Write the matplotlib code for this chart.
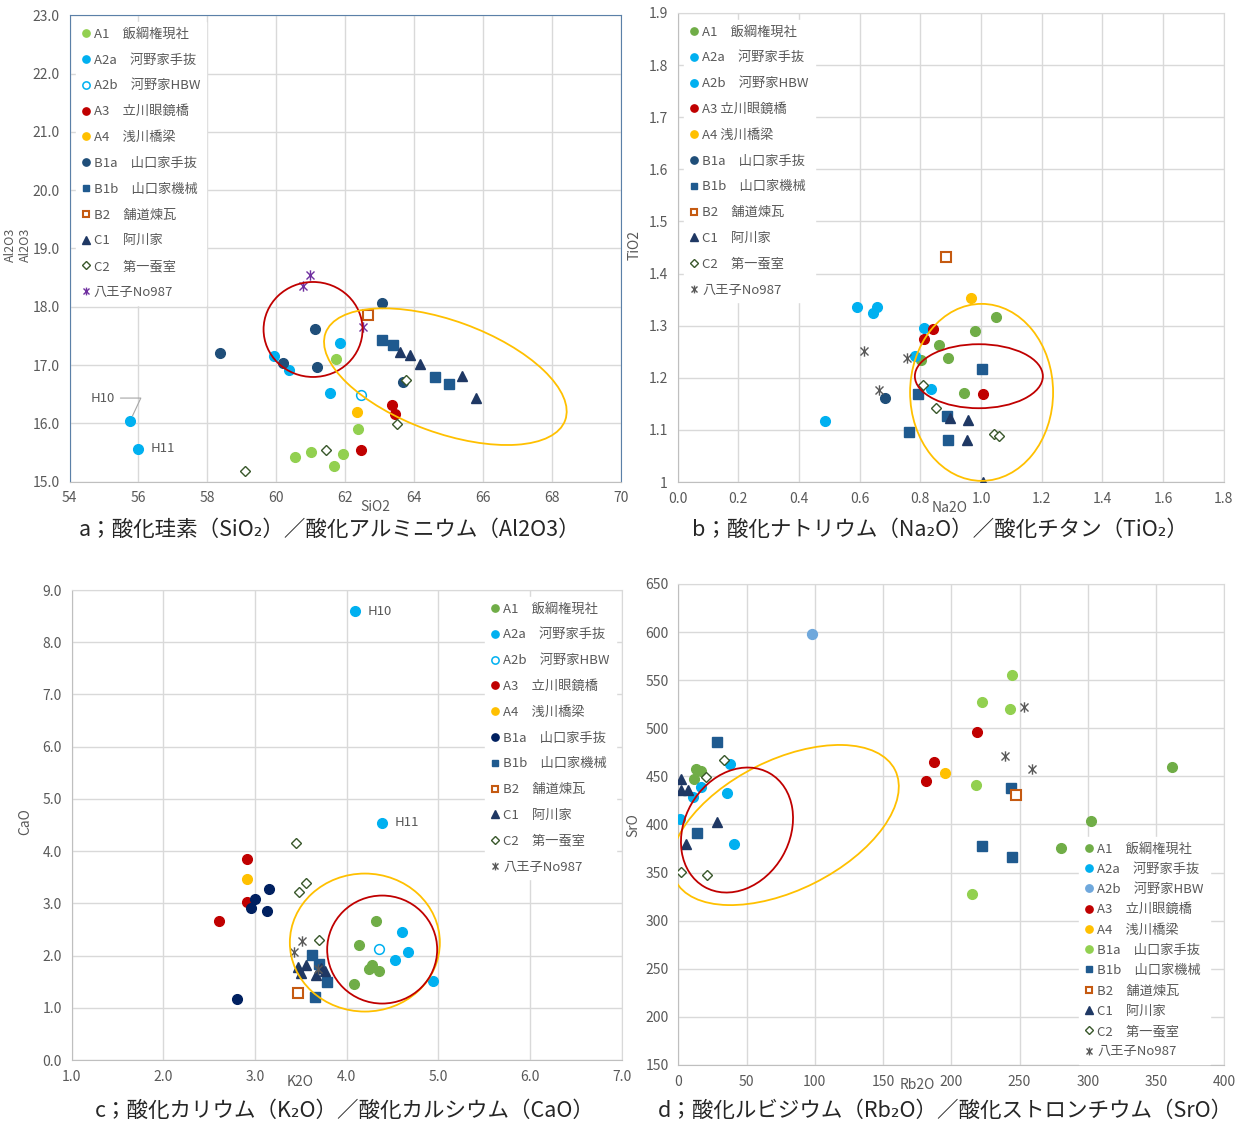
import matplotlib
matplotlib.use('Agg')
import matplotlib.pyplot as plt
from matplotlib.patches import Ellipse
from matplotlib.path import Path
from matplotlib.lines import Line2D
from matplotlib.transforms import ScaledTranslation

plt.rcParams['font.family'] = ['Noto Sans CJK JP', 'DejaVu Sans']

# ---- data ----
series = ['A1', 'A2a', 'A2b', 'A3', 'A4', 'B1a', 'B1b', 'B2', 'C1', 'C2', 'HJ']
labels = ['A1\u3000飯綱権現社', 'A2a\u3000河野家手抜', 'A2b\u3000河野家HBW',
          'A3\u3000立川眼鏡橋', 'A4\u3000浅川橋梁', 'B1a\u3000山口家手抜',
          'B1b\u3000山口家機械', 'B2\u3000舗道煉瓦', 'C1\u3000阿川家',
          'C2\u3000第一蚕室', '八王子No987']
labels_b = list(labels)
labels_b[3] = 'A3 立川眼鏡橋'
labels_b[4] = 'A4 浅川橋梁'

sio2_al2o3 = {
    'A1': ([61.73, 62.38, 60.55, 61.02, 61.93, 61.68], [17.11, 15.91, 15.43, 15.50, 15.47, 15.26]),
    'A2a': ([55.76, 55.99, 61.86, 59.94, 60.38, 61.55], [16.04, 15.56, 17.38, 17.16, 16.91, 16.52]),
    'A2b': ([62.47], [16.49]),
    'A3': ([63.37, 63.45, 62.46], [16.31, 16.16, 15.54]),
    'A4': ([62.35], [16.19]),
    'B1a': ([63.08, 61.13, 58.36, 60.20, 61.19, 63.67], [18.07, 17.62, 17.21, 17.03, 16.96, 16.71]),
    'B1b': ([63.06, 63.38, 64.61, 65.03], [17.43, 17.35, 16.79, 16.67]),
    'B2': ([62.67], [17.85]),
    'C1': ([63.59, 63.88, 64.16, 65.39, 65.80], [17.23, 17.17, 17.01, 16.82, 16.43]),
    'C2': ([63.76, 63.50, 61.46, 59.10], [16.74, 15.98, 15.55, 15.18]),
    'HJ': ([60.98, 60.77, 62.53], [18.54, 18.36, 17.66]),
}

na2o_tio2 = {
    'A1': ([1.049, 0.981, 0.862, 0.890, 0.801, 0.944], [1.317, 1.290, 1.262, 1.238, 1.234, 1.170]),
    'A2a': ([0.592, 0.656, 0.643, 0.812, 0.781, 0.834, 0.487], [1.335, 1.335, 1.325, 1.296, 1.242, 1.178, 1.118]),
    'A2b': ([], []),
    'A3': ([0.841, 0.812, 1.007], [1.294, 1.275, 1.168]),
    'A4': ([0.967], [1.354]),
    'B1a': ([0.684], [1.162]),
    'B1b': ([1.003, 0.791, 0.887, 0.762, 0.891], [1.217, 1.169, 1.127, 1.095, 1.080]),
    'B2': ([0.885], [1.432]),
    'C1': ([0.898, 0.956, 0.954, 1.007], [1.122, 1.119, 1.081, 1.000]),
    'C2': ([0.808, 0.852, 1.044, 1.059], [1.186, 1.142, 1.092, 1.088]),
    'HJ': ([0.613, 0.755, 0.663], [1.251, 1.237, 1.177]),
}

k2o_cao = {
    'A1': ([4.324, 4.131, 4.276, 4.247, 4.353, 4.084], [2.66, 2.20, 1.82, 1.74, 1.70, 1.45]),
    'A2a': ([4.087, 4.389, 4.607, 4.665, 4.524, 4.945], [8.59, 4.54, 2.46, 2.07, 1.91, 1.51]),
    'A2b': ([4.349], [2.12]),
    'A3': ([2.908, 2.908, 2.607], [3.84, 3.02, 2.66]),
    'A4': ([2.908], [3.46]),
    'B1a': ([2.799, 2.956, 3.004, 3.153, 3.135], [1.16, 2.91, 3.08, 3.27, 2.85]),
    'B1b': ([3.62, 3.70, 3.78, 3.65], [2.01, 1.84, 1.50, 1.20]),
    'B2': ([3.469], [1.28]),
    'C1': ([3.47, 3.56, 3.50, 3.66, 3.76, 3.72], [1.78, 1.82, 1.66, 1.62, 1.70, 1.77]),
    'C2': ([3.45, 3.556, 3.484, 3.702], [4.16, 3.39, 3.21, 2.29]),
    'HJ': ([3.516, 3.425, 3.691], [2.28, 2.07, 1.75]),
}

rb2o_sro = {
    'A1': ([12.9, 16.3, 11.5, 361.7, 302.0, 280.0], [457.4, 455.3, 447.0, 460.1, 404.1, 376.0]),
    'A2a': ([37.8, 16.8, 11.0, 35.9, 1.2, 40.5], [462.6, 439.4, 428.6, 433.1, 405.4, 379.5]),
    'A2b': ([97.9], [598.5]),
    'A3': ([218.5, 187.6, 181.6], [496.3, 464.9, 445.5]),
    'A4': ([195.4], [453.5]),
    'B1a': ([244.2, 222.3, 242.8, 218.2, 214.8], [555.7, 527.2, 520.3, 441.3, 327.8]),
    'B1b': ([28.0, 13.9, 243.4, 222.3, 244.5], [485.8, 391.6, 437.8, 378.1, 366.0]),
    'B2': ([247.4], [430.9]),
    'C1': ([1.7, 1.7, 6.8, 28.0, 5.4], [447.4, 435.9, 435.9, 402.3, 379.8]),
    'C2': ([33.7, 20.5, 1.7, 21.2], [467.1, 449.8, 350.7, 347.9]),
    'HJ': ([253.5, 239.6, 258.9], [522.3, 470.9, 457.7]),
}

# ---- styles ----
star = Path([(-1, -1), (1, 1), (-1, 1), (1, -1), (0, -1.3), (0, 1.3)],
            [Path.MOVETO, Path.LINETO] * 3)


def style(name, panel):
    green = '#92D050' if panel == 'a' else '#70AD47'
    navy = '#002060' if panel == 'c' else '#1F4E79'
    s = {
        'A1': dict(marker='o', ms=7, mfc=green, mec=green),
        'A2a': dict(marker='o', ms=7, mfc='#00B0F0', mec='#00B0F0'),
        'A2b': dict(marker='o', ms=7, mfc='white', mec='#00B0F0', mew=1.1),
        'A3': dict(marker='o', ms=7, mfc='#C00000', mec='#C00000'),
        'A4': dict(marker='o', ms=7, mfc='#FFC000', mec='#FFC000'),
        'B1a': dict(marker='o', ms=7, mfc=navy, mec=navy),
        'B1b': dict(marker='s', ms=6.5, mfc='#1F5A8F', mec='#1F5A8F'),
        'B2': dict(marker='s', ms=6.5, mfc='white', mec='#C55A11', mew=1.5),
        'C1': dict(marker='^', ms=7, mfc='#1F3864', mec='#1F3864'),
        'C2': dict(marker='D', ms=5, mfc='white', mec='#38572A', mew=1.0),
        'HJ': dict(marker=star, ms=7.5, mfc='none', mec='#595959', mew=1.0),
    }[name]
    if panel == 'a' and name == 'HJ':
        s['mec'] = '#7030A0'
    if panel == 'b' and name == 'A2b':
        s['mfc'] = '#00B0F0'
    if panel == 'd' and name == 'A2b':
        s['mfc'] = s['mec'] = '#6FA8DC'
    if panel == 'd' and name == 'B1a':
        s['mfc'] = s['mec'] = '#92D050'
    return s


W, H = 1240, 1124
fig = plt.figure(figsize=(W / 100, H / 100), dpi=100)
grid = '#D9D9D9'
tick_c = '#595959'


def px_axes(l, t, r, b):
    return fig.add_axes([l / W, 1 - b / H, (r - l) / W, (b - t) / H])


def draw(ax, data, panel, xlim, ylim, xticks, yticks, xfmt, yfmt):
    ax.set_xlim(xlim)
    ax.set_ylim(ylim)
    ax.set_xticks(xticks)
    ax.set_yticks(yticks)
    ax.set_xticklabels([xfmt(v) for v in xticks])
    ax.set_yticklabels([yfmt(v) for v in yticks])
    ax.grid(True, color=grid, lw=1.0)
    ax.set_axisbelow(True)
    ax.tick_params(length=0, labelsize=10, colors=tick_c, pad=7)
    for sp in ax.spines.values():
        sp.set_color(grid)
    ax.spines['left'].set_color('#BFBFBF')
    ax.spines['bottom'].set_color('#BFBFBF')
    handles = []
    for name in series:
        x, y = data[name]
        st = style(name, panel)
        ax.plot(x, y, ls='none', zorder=3, **st)
        handles.append(Line2D([], [], ls='none', **st))
    return handles


def ellipse(ax, cx, cy, w_px, h_px, angle, color):
    tr = fig.dpi_scale_trans + ScaledTranslation(cx, cy, ax.transData)
    ax.add_patch(Ellipse((0, 0), w_px / 100, h_px / 100, angle=angle,
                         fill=False, ec=color, lw=1.3, transform=tr, zorder=4))


def legend(ax, handles, labs, loc, anchor, spacing):
    lg = ax.legend(handles, labs, loc=loc, bbox_to_anchor=anchor,
                   fontsize=9.5, labelspacing=spacing, handlelength=0.6,
                   handletextpad=0.3, markerscale=0.75, borderpad=0.45,
                   frameon=True, fancybox=False, framealpha=1,
                   facecolor='white', edgecolor='white')
    for t in lg.get_texts():
        t.set_color(tick_c)
    lg.set_zorder(5)


f1 = lambda v: f'{v:.1f}'
f0 = lambda v: f'{v:g}'

# ---- a ----
ax = px_axes(69.5, 15.3, 620.7, 481.6)
h = draw(ax, sio2_al2o3, 'a', (54, 70), (15, 23), list(range(54, 71, 2)),
         [15 + i for i in range(9)], f0, f1)
for sp in ('top', 'right', 'left'):
    ax.spines[sp].set_color('#5B80A8')
ellipse(ax, 61.07, 17.61, 99, 95, 0, '#C00000')
ellipse(ax, 64.91, 16.80, 255, 112, -20, '#FFC000')
ax.annotate('H10', xy=(55.76, 16.04), xytext=(-11, 16.5), textcoords='offset points',
            fontsize=9.5, color=tick_c, ha='right', va='center',
            arrowprops=dict(arrowstyle='-', color='#A6A6A6', lw=0.8, shrinkA=2, shrinkB=4,
                            connectionstyle='angle,angleA=0,angleB=65,rad=0'))
ax.annotate('H11', xy=(55.99, 15.56), xytext=(9, 0), textcoords='offset points',
            fontsize=9.5, color=tick_c, ha='left', va='center')
legend(ax, h, labels, 'upper left', (0.0, 1.0), 0.97)

# ---- b ----
ax = px_axes(677.7, 13, 1223.6, 482)
yb = [1.0 + 0.1 * i for i in range(10)]
h = draw(ax, na2o_tio2, 'b', (0, 1.8), (1.0, 1.9), [0.2 * i for i in range(10)],
         yb, f1, lambda v: '1' if abs(v - 1) < 1e-9 else f'{v:.1f}')
ellipse(ax, 1.002, 1.172, 143, 177, 0, '#FFC000')
ellipse(ax, 0.993, 1.203, 128, 64, 0, '#C00000')
legend(ax, h, labels_b, 'upper left', (0.0, 1.0), 0.97)

# ---- c ----
ax = px_axes(71.7, 590, 621.7, 1060)
h = draw(ax, k2o_cao, 'c', (1, 7), (0, 9), [1 + i for i in range(7)],
         [i for i in range(10)], f1, f1)
ellipse(ax, 4.198, 2.249, 150, 138, 0, '#FFC000')
ellipse(ax, 4.387, 2.115, 110, 108, 0, '#C00000')
for txt, xy in (('H10', (4.087, 8.59)), ('H11', (4.389, 4.54))):
    ax.annotate(txt, xy=xy, xytext=(9, 0), textcoords='offset points',
                fontsize=9.5, color=tick_c, ha='left', va='center')
legend(ax, h, labels, 'upper left', (0.74, 1.0), 0.97)

# ---- d ----
ax = px_axes(678.3, 584, 1224.3, 1064.9)
h = draw(ax, rb2o_sro, 'd', (0, 400), (150, 650), list(range(0, 401, 50)),
         list(range(150, 651, 50)), f0, f0)
ellipse(ax, 78.2, 399.4, 246, 130, 26.6, '#FFC000')
ellipse(ax, 43.0, 394.2, 131, 105, 60, '#C00000')
legend(ax, h, labels, 'lower right', (0.985, -0.012), 0.55)

# ---- axis titles and captions ----
lab = dict(fontsize=10, color=tick_c, ha='center', va='center')
fig.text(375 / W, 1 - 507 / H, 'SiO2', **lab)
fig.text(10 / W, 1 - 245 / H, 'Al2O3', rotation=90, **dict(lab, fontsize=9))
fig.text(25 / W, 1 - 245 / H, 'Al2O3', rotation=90, **dict(lab, fontsize=9))
fig.text(950 / W, 1 - 508 / H, 'Na2O', **lab)
fig.text(635 / W, 1 - 245 / H, 'TiO2', rotation=90, **lab)
fig.text(300 / W, 1 - 1082 / H, 'K2O', **lab)
fig.text(25 / W, 1 - 822 / H, 'CaO', rotation=90, **lab)
fig.text(917 / W, 1 - 1085 / H, 'Rb2O', **lab)
fig.text(633 / W, 1 - 825 / H, 'SrO', rotation=90, **lab)

cap = dict(fontsize=15.5, color='#262626', ha='center', va='center')
fig.text(330 / W, 1 - 530 / H, 'a；酸化珪素（SiO₂）／酸化アルミニウム（Al2O3）', **cap)
fig.text(940 / W, 1 - 530 / H, 'b；酸化ナトリウム（Na₂O）／酸化チタン（TiO₂）', **cap)
fig.text(345 / W, 1 - 1111 / H, 'c；酸化カリウム（K₂O）／酸化カルシウム（CaO）', **cap)
fig.text(945 / W, 1 - 1111 / H, 'd；酸化ルビジウム（Rb₂O）／酸化ストロンチウム（SrO）', **cap)

fig.savefig('out.png', dpi=100, facecolor='white')
